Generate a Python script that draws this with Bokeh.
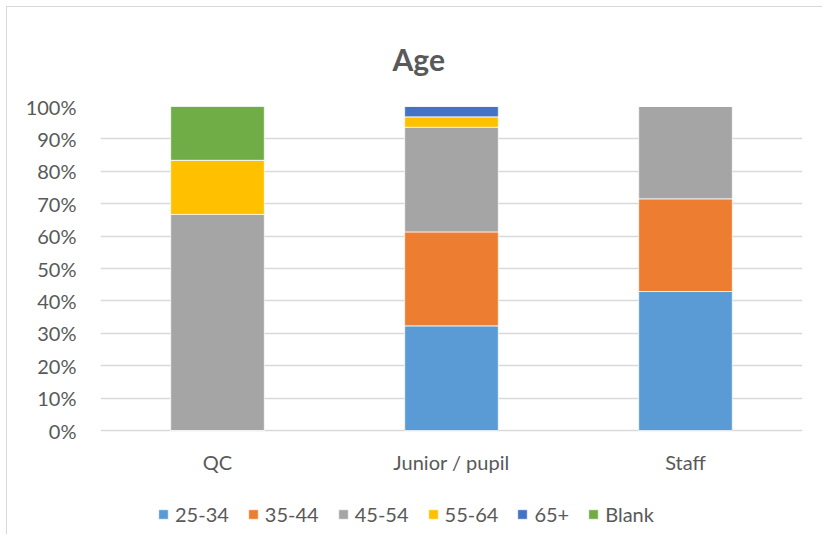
from bokeh.plotting import figure
from bokeh.models import FactorRange, Range1d, Legend, LegendItem, PrintfTickFormatter, FixedTicker, ColumnDataSource
from bokeh.core.properties import value
from bokeh.embed import file_html
from bokeh.resources import INLINE

categories = ["QC", "Junior / pupil", "Staff"]
age_groups = ["25-34", "35-44", "45-54", "55-64", "65+", "Blank"]
v_25_34 = [0.0, 32.3, 42.9]
v_35_44 = [0.0, 29.0, 28.6]
v_45_54 = [66.7, 32.3, 28.5]
v_55_64 = [16.7, 3.2, 0.0]
v_65p = [0.0, 3.2, 0.0]
v_blank = [16.6, 0.0, 0.0]
y_ticks = [0, 10, 20, 30, 40, 50, 60, 70, 80, 90, 100]
colors = ["#5b9bd5", "#ed7d31", "#a5a5a5", "#ffc000", "#4472c4", "#70ad47"]

FONT = "Lato"
TXT = "#595959"
LABEL_SIZE = "20px"

data = {"cat": categories}
for name, vals in zip(age_groups, [v_25_34, v_35_44, v_45_54, v_55_64, v_65p, v_blank]):
    data[name] = vals
source = ColumnDataSource(data)

p = figure(width=816, height=528, x_range=FactorRange(*categories, range_padding=0),
           y_range=Range1d(-32.4, 100), output_backend="svg", toolbar_location=None,
           x_axis_location=None, title="Age",
           min_border_left=93, min_border_right=21, min_border_top=99, min_border_bottom=0)
p.styles = {"margin-left": "6px", "margin-top": "6px",
            "border-left": "1px solid #d9d9d9", "border-top": "1px solid #d9d9d9"}

renderers = p.vbar_stack(age_groups, x="cat", width=0.4, color=colors, source=source,
                         line_color="white", line_width=0.7)

# category labels below the 0% line, placed through the categorical scale
p.text(x="cat", y=-9.6, text="cat", source=source, text_font=value(FONT),
       text_font_size=LABEL_SIZE, text_color=TXT, text_align="center",
       text_baseline="middle")

p.title.text_font = FONT
p.title.text_font_size = "30px"
p.title.text_font_style = "bold"
p.title.text_color = TXT
p.title.align = "left"
p.title.offset = 292
p.title.standoff = 60

p.outline_line_color = None
p.xgrid.grid_line_color = None
p.ygrid.grid_line_color = "#d9d9d9"
p.ygrid.grid_line_width = 1.3

p.yaxis.ticker = FixedTicker(ticks=y_ticks)
p.yaxis.formatter = PrintfTickFormatter(format="%d%%")
p.yaxis.axis_line_color = None
p.yaxis.major_tick_line_color = None
p.yaxis.minor_tick_line_color = None
p.yaxis.major_label_text_font = FONT
p.yaxis.major_label_text_font_size = LABEL_SIZE
p.yaxis.major_label_text_color = TXT
p.yaxis.major_label_standoff = 18

items = [LegendItem(label=name, renderers=[r]) for name, r in zip(age_groups, renderers)]
legend = Legend(items=items, orientation="horizontal", location=(57, 9),
                glyph_width=12, glyph_height=12, label_standoff=6, spacing=18,
                label_text_font=FONT, label_text_font_size=LABEL_SIZE, label_text_color=TXT,
                border_line_color=None, background_fill_alpha=0, margin=0, padding=0)
p.add_layout(legend)

open("out.html", "w").write(file_html(p, INLINE))
